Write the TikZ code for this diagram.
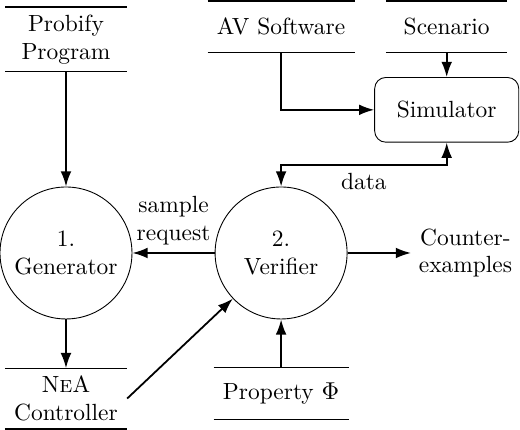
\documentclass[tikz,border=0pt]{standalone}
\usepackage{amsmath,amssymb}
\usepackage{tikz}
\usetikzlibrary{positioning,arrows.meta}
\tikzset{
  proc/.style={draw, circle, minimum size=2.08cm, align=center, inner sep=1pt},
  store/.style={minimum width=1.9cm, minimum height=0.8cm, align=center, inner xsep=4pt},
  storeline/.style={draw, line width=0.6pt},
  ext/.style={draw, rounded corners=5pt, minimum width=2.27cm, minimum height=1.02cm},
  flow/.style={draw, line width=0.8pt, -{Latex[length=2.4mm,width=1.7mm]}},
  lab/.style={align=center},
}

\begin{document}
\begin{tikzpicture}[font=\fontsize{10.5}{12.4}\selectfont]
  \useasboundingbox (0,0) rectangle (8.195,6.761);

  % processes
  \node[proc] (gen) at (1.04,2.774) {1.\\Generator};
  \node[proc] (ver) at (4.43,2.774) {2.\\Verifier};
  \node[lab, right=1cm of ver] (cex) {Counter-\\examples};

  % data stores
  \node[store] (prob) at (1.04,6.14) {Probify\\Program};
  \node[store] (avsw) at (4.43,6.34) {AV Software};
  \node[store] (scen) at (7.04,6.34) {Scenario};
  \node[store] (nea)  at (1.04,0.48) {N\textsc{e}A\\Controller};
  \node[store] (prop) at (4.43,0.56) {Property $\Phi$};
  \foreach \s in {prob,avsw,scen,nea,prop}
    \draw[storeline] (\s.north west) -- (\s.north east)
                     (\s.south west) -- (\s.south east);

  % external entity
  \node[ext] (sim) at (7.04,5.03) {Simulator};

  % flows
  \draw[flow] (prob) -- (gen);
  \draw[flow] (scen) -- (sim);
  \draw[flow] (avsw) |- (sim);
  \draw[flow, {Latex[length=2.4mm,width=1.7mm]}-{Latex[length=2.4mm,width=1.7mm]}]
    (sim.south) -- ++(0,-0.35) -| node[pos=0.25, below] {data} (ver);
  \draw[flow] (ver) -- node[lab, above] {sample\\request} (gen);
  \draw[flow] (ver) -- (cex);
  \draw[flow] (gen) -- (nea);
  \draw[flow] (nea.east) -- (ver);
  \draw[flow] (prop) -- (ver);
\end{tikzpicture}
\end{document}
